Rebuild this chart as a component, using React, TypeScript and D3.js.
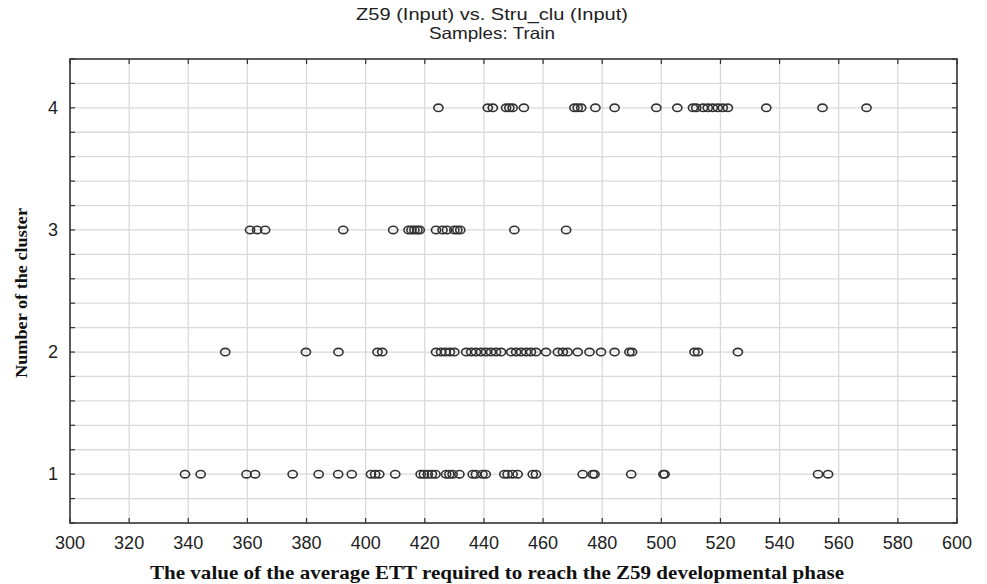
import React, { useEffect, useRef } from 'react';
import * as d3 from 'd3';

// Z59 values per cluster
const cluster1 = [338.9, 344.2, 359.7, 362.6, 375.3, 384.1, 390.7, 395.3, 401.8, 403.2, 404.6, 410.0,
  418.6, 419.7, 421.0, 422.4, 423.6, 427.2, 428.3, 429.4, 431.7, 436.2, 437.3, 439.5, 440.6,
  446.9, 448.0, 449.7, 451.4, 456.5, 457.6, 473.4, 476.8, 477.4, 489.8, 500.7, 501.1, 553.0, 556.4];
const cluster2 = [352.5, 379.8, 390.8, 404.0, 405.6, 423.8, 425.5, 427.0, 428.5, 430.0,
  434.0, 435.7, 437.3, 439.0, 440.7, 442.4, 444.1, 445.8, 449.2, 450.9, 452.6, 454.3, 455.9, 457.6,
  461.0, 465.0, 466.7, 468.3, 471.7, 475.7, 479.6, 484.2, 489.2, 490.1, 511.2, 512.4, 525.9];
const cluster3 = [360.9, 363.3, 366.0, 392.4, 409.3, 414.5, 415.5, 416.5, 417.5, 418.3,
  423.8, 426.0, 427.5, 430.0, 431.0, 432.0, 450.3, 467.8];
const cluster4 = [424.6, 441.3, 443.0, 447.5, 448.6, 449.7, 453.5, 470.6, 471.7, 472.9, 477.7,
  484.2, 498.3, 505.4, 510.7, 511.8, 514.1, 515.7, 517.4, 519.1, 520.8, 522.5, 535.5, 554.5, 569.4];

const clusters = [cluster1, cluster2, cluster3, cluster4];
const xTicks = d3.range(300, 601, 20);
const yTicks = [1, 2, 3, 4];

const ScatterChart = () => {
  const svgRef = useRef<SVGSVGElement>(null);

  useEffect(() => {
    const svg = d3.select(svgRef.current);
    svg.selectAll('*').remove();

    const width = 987;
    const height = 584;
    const margin = { top: 59, right: 30, bottom: 61, left: 70 };
    const innerWidth = width - margin.left - margin.right;
    const innerHeight = height - margin.top - margin.bottom;

    svg.attr('width', width).attr('height', height);

    svg.append('rect').attr('width', width).attr('height', height).attr('fill', '#fff');

    const g = svg.append('g').attr('transform', `translate(${margin.left},${margin.top})`);

    const xScale = d3.scaleLinear().domain([300, 600]).range([0, innerWidth]);
    const yScale = d3.scaleLinear().domain([0.6, 4.4]).range([innerHeight, 0]);
    const yGrid = d3.range(0.6, 4.41, 0.2);

    // grid lines
    g.append('g')
      .selectAll('line')
      .data(xTicks.slice(1, -1))
      .enter().append('line')
      .attr('x1', d => xScale(d)).attr('x2', d => xScale(d))
      .attr('y1', 0).attr('y2', innerHeight)
      .attr('stroke', '#dadada').attr('stroke-width', 1.3);

    g.append('g')
      .selectAll('line')
      .data(yGrid.slice(1, -1))
      .enter().append('line')
      .attr('x1', 0).attr('x2', innerWidth)
      .attr('y1', d => yScale(d)).attr('y2', d => yScale(d))
      .attr('stroke', '#dadada').attr('stroke-width', 1.3);

    // frame ticks (inward)
    const tickLen = 5;
    const ticks = g.append('g').attr('stroke', '#333').attr('stroke-width', 1.2);
    xTicks.forEach(t => {
      ticks.append('line').attr('x1', xScale(t)).attr('x2', xScale(t)).attr('y1', 0).attr('y2', tickLen);
      ticks.append('line').attr('x1', xScale(t)).attr('x2', xScale(t)).attr('y1', innerHeight).attr('y2', innerHeight - tickLen);
    });
    yGrid.forEach(t => {
      ticks.append('line').attr('x1', 0).attr('x2', tickLen).attr('y1', yScale(t)).attr('y2', yScale(t));
      ticks.append('line').attr('x1', innerWidth).attr('x2', innerWidth - tickLen).attr('y1', yScale(t)).attr('y2', yScale(t));
    });

    // frame
    g.append('rect')
      .attr('width', innerWidth).attr('height', innerHeight)
      .attr('fill', 'none').attr('stroke', '#333').attr('stroke-width', 1.6);

    // tick labels
    const tickFont = "'Liberation Sans', Arial, sans-serif";
    g.append('g')
      .selectAll('text')
      .data(xTicks)
      .enter().append('text')
      .attr('x', d => xScale(d))
      .attr('y', innerHeight + 26)
      .attr('text-anchor', 'middle')
      .style('font-family', tickFont)
      .style('font-size', '18px')
      .style('fill', '#222')
      .text(d => d);

    g.append('g')
      .selectAll('text')
      .data(yTicks)
      .enter().append('text')
      .attr('x', -12)
      .attr('y', d => yScale(d))
      .attr('dy', '0.35em')
      .attr('text-anchor', 'end')
      .style('font-family', tickFont)
      .style('font-size', '18px')
      .style('fill', '#222')
      .text(d => d);

    // points
    clusters.forEach((values, i) => {
      g.append('g')
        .selectAll('ellipse')
        .data(values)
        .enter().append('ellipse')
        .attr('cx', d => xScale(d))
        .attr('cy', yScale(i + 1))
        .attr('rx', 4.6)
        .attr('ry', 3.7)
        .attr('fill', 'none')
        .attr('stroke', '#333')
        .attr('stroke-width', 1.6);
    });

    // titles
    svg.append('text')
      .attr('x', 492).attr('y', 20)
      .attr('text-anchor', 'middle')
      .attr('textLength', 272)
      .attr('lengthAdjust', 'spacingAndGlyphs')
      .style('font-family', tickFont)
      .style('font-size', '16.5px')
      .style('fill', '#222')
      .text('Z59 (Input) vs. Stru_clu (Input)');
    svg.append('text')
      .attr('x', 492).attr('y', 39)
      .attr('text-anchor', 'middle')
      .attr('textLength', 126)
      .attr('lengthAdjust', 'spacingAndGlyphs')
      .style('font-family', tickFont)
      .style('font-size', '16.5px')
      .style('fill', '#222')
      .text('Samples: Train');

    // axis labels
    svg.append('text')
      .attr('x', 497).attr('y', 579)
      .attr('text-anchor', 'middle')
      .attr('textLength', 694)
      .attr('lengthAdjust', 'spacingAndGlyphs')
      .style('font-family', "'Liberation Serif', 'Times New Roman', serif")
      .style('font-weight', 'bold')
      .style('font-size', '19px')
      .style('fill', '#111')
      .text('The value of the average ETT required to reach the Z59 developmental phase');

    svg.append('text')
      .attr('transform', 'translate(27, 293) rotate(-90)')
      .attr('text-anchor', 'middle')
      .attr('textLength', 170)
      .attr('lengthAdjust', 'spacingAndGlyphs')
      .style('font-family', "'Liberation Serif', 'Times New Roman', serif")
      .style('font-weight', 'bold')
      .style('font-size', '16px')
      .style('fill', '#111')
      .text('Number of the cluster');
  }, []);

  return <svg ref={svgRef} style={{ display: 'block' }}></svg>;
};

export default function App() {
  return (
    <div style={{ position: 'absolute', left: 0, top: 0 }}>
      <ScatterChart />
    </div>
  );
}
